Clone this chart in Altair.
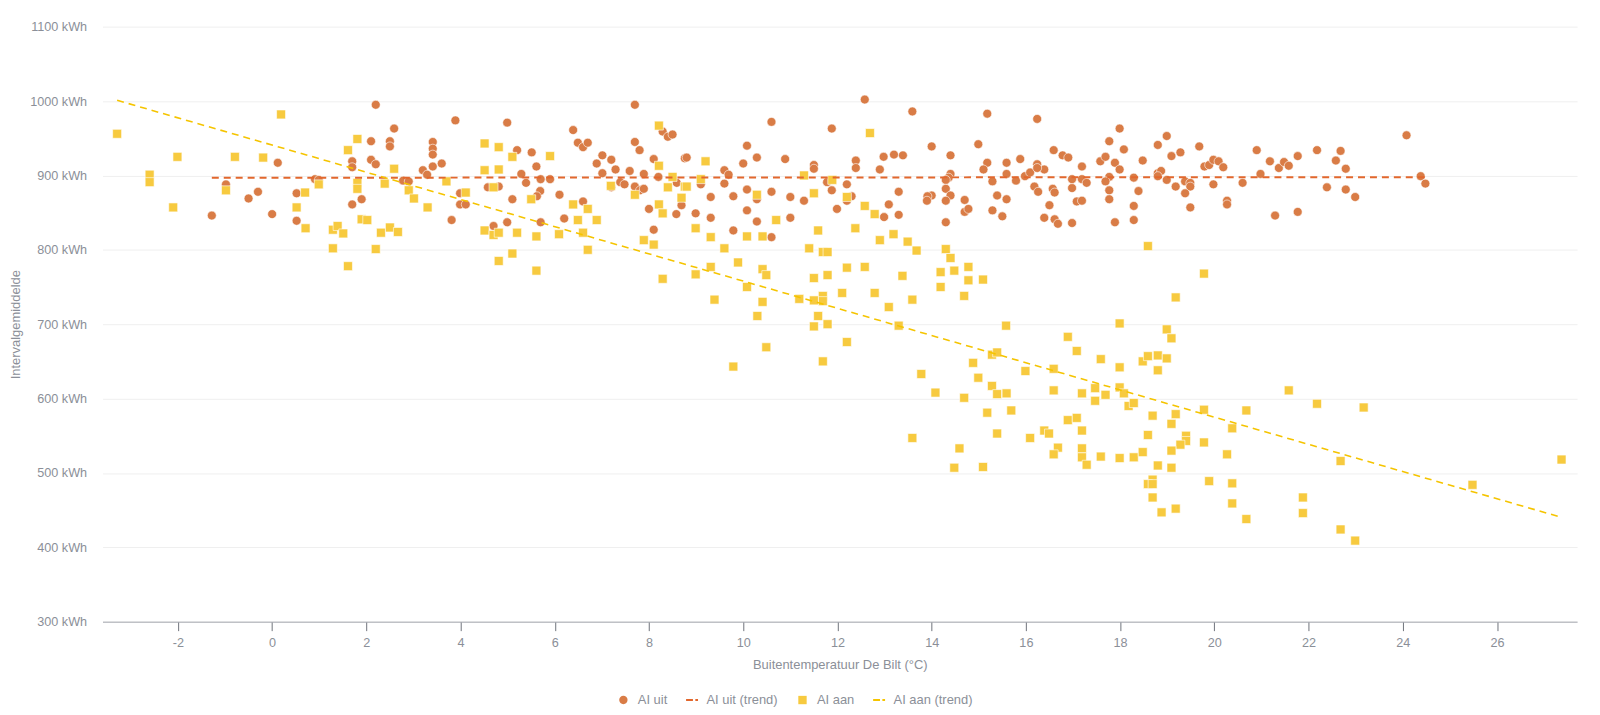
import altair as alt
import pandas as pd

# AI uit (orange circles): outdoor temperature (°C) and interval average (kWh)
uit_x = [-0.98, -1.28, -0.50, -0.30, 0.00, 0.12, 0.52, 0.52, 0.91, 0.99, 1.70, 1.70, 1.70, 1.90, 2.10, 2.10, 2.20, 2.20, 2.50, 2.50, 2.59,
         3.89, 3.41, 3.41, 3.41, 3.41, 3.60, 3.20, 3.29, 2.78, 2.90, 3.99, 3.99, 4.11, 3.81, 4.99, 5.20, 5.51, 5.29, 5.61, 5.39, 5.70, 5.90,
         4.58, 4.81, 5.69, 5.62, 5.10, 6.10, 6.60, 4.70, 4.99, 5.70, 6.20, 6.39, 6.49, 6.60, 6.70, 7.70, 7.70, 7.80, 7.01, 7.20, 6.89, 7.29,
         7.01, 7.59, 7.89, 8.10, 7.39, 7.48, 7.20, 7.70, 7.81, 7.89, 8.20, 8.59, 8.76, 8.29, 8.40, 8.50, 8.00, 8.69, 8.58, 8.10,
         8.80, 9.10, 9.31, 8.99, 9.31, 9.60, 9.69, 9.60, 9.79, 9.79, 10.00, 10.08, 10.29, 10.08, 10.29, 10.08, 10.29, 10.60, 10.60, 10.60,
         10.89, 11.00, 11.00, 11.29, 11.50, 11.50, 11.88, 11.78, 11.88, 12.20, 12.30, 12.20, 11.99, 12.39, 12.39, 12.58, 12.90, 12.98,
         13.20, 13.39, 13.59, 13.30, 13.09, 12.99, 13.30, 14.00, 14.40, 14.40, 14.36, 14.30, 14.30, 14.40, 14.30, 14.00, 13.91, 13.90,
         14.30, 14.70, 14.70, 14.78, 14.99,
         15.18, 15.18, 15.10, 15.29, 15.39, 15.29, 15.50, 15.59, 15.59, 15.59, 15.79, 15.88, 15.98, 16.09, 16.24, 16.24, 16.39, 16.24,
         16.18, 16.26, 16.59, 16.57, 16.61, 16.50, 16.39, 16.61, 16.68, 16.78, 16.90, 16.98, 16.98, 17.08, 17.19, 16.98, 17.19, 17.19,
         17.29, 17.58, 17.69, 17.77, 17.99, 17.89, 17.99, 18.08, 17.77, 17.69, 17.77, 17.77, 17.89, 18.29, 18.39, 18.29, 18.29, 18.48,
         18.80, 18.99, 19.09, 19.28, 18.80, 18.87, 18.80, 18.99, 19.18, 19.38, 19.49, 19.49, 19.38, 19.49, 19.68, 19.79, 19.89, 19.98,
         20.09, 20.19, 19.98, 20.27, 20.27, 20.60, 20.90, 20.98,
         21.18, 21.29, 21.37, 21.48, 21.58, 21.77, 21.77, 22.18, 22.39, 22.58, 22.68, 22.79, 22.79, 22.99, 24.08, 24.38, 24.48]
uit_y = [888, 846, 869, 878, 848, 917, 876, 839, 895, 894, 919, 911, 861, 868, 946, 921, 915, 995, 946, 939, 963,
         974, 945, 936, 928, 912, 916, 907, 901, 893, 892, 876, 861, 861, 840, 971, 934, 931, 902, 912, 890, 895, 895,
         884, 885, 879, 872, 868, 874, 865, 832, 837, 837, 842, 961, 944, 938, 944, 995, 945, 934, 927, 921, 916, 908,
         903, 906, 902, 922, 891, 888, 884, 885, 880, 882, 898, 890, 923, 959, 952, 955, 855, 860, 848, 827,
         924, 888, 871, 849, 843, 907, 901, 889, 872, 826, 916, 940, 924, 881, 868, 853, 838, 972, 878, 817,
         922, 871, 843, 866, 914, 909, 963, 891, 880, 888, 872, 866, 855, 920, 910, 1002, 908, 925,
         928, 927, 986, 878, 861, 844, 847, 939, 927, 902, 897, 894, 882, 873, 866, 873, 872, 866,
         837, 867, 851, 855, 942,
         983, 917, 908, 892, 873, 853, 845, 917, 902, 868, 893, 922, 899, 904, 976, 915, 908, 910,
         885, 878, 934, 882, 877, 860, 843, 841, 835, 927, 924, 895, 883, 865, 866, 836, 912, 895,
         890, 919, 925, 946, 963, 917, 908, 935, 898, 892, 880, 868, 837, 897, 879, 859, 840, 920,
         941, 953, 926, 931, 903, 906, 899, 894, 885, 892, 890, 885, 876, 857, 939, 912, 914, 921,
         919, 911, 888, 866, 861, 890, 934, 902,
         919, 846, 910, 918, 913, 926, 851, 934, 884, 920, 933, 909, 881, 871, 954, 899, 889]

# AI aan (yellow squares)
aan_x = [-3.29, -2.60, -2.60, -2.01, -2.10, -0.79, -0.19, 0.19, -0.98, 0.70, 0.52, 0.71, 0.99, 1.29, 1.39, 1.51, 1.29, 1.61, 1.61,
         1.81, 1.81, 1.81, 1.90, 2.02, 2.20, 2.31, 2.39, 2.50, 2.59, 2.67,
         2.90, 3.01, 3.30, 3.70, 4.11, 4.51, 4.51, 4.81, 4.81, 4.70, 5.10, 5.90, 5.50, 4.51, 4.70, 4.81, 5.20, 5.61, 5.10, 4.81, 5.61,
         6.09, 6.39, 6.49, 6.60, 6.70, 6.89, 6.70, 7.19, 7.70, 8.21, 8.21, 8.40, 8.50, 8.69, 8.76, 8.21, 8.29, 7.89, 8.10, 8.29,
         9.20, 9.10, 8.80, 8.99, 9.31, 9.60, 9.31, 8.99, 9.39, 9.89, 10.08, 10.08, 10.29, 10.41, 10.41, 10.49, 10.41, 10.30, 10.49,
         10.70, 11.29, 11.50, 11.59, 11.40, 11.69, 11.79, 11.50, 11.79, 11.69, 11.69, 11.50, 11.19, 11.59, 11.50, 11.79, 12.20, 11.69,
         11.89, 12.20, 12.10, 12.20, 12.58, 12.58, 12.38, 12.69, 12.79, 12.79, 12.90, 13.09, 13.19, 13.30, 13.38, 13.49, 13.59, 13.68,
         14.30, 14.40, 14.19, 14.19, 14.48, 14.78, 14.78, 14.69, 9.79,
         15.09, 15.58, 13.78, 14.08, 13.59, 14.48, 14.59, 14.69, 14.88, 14.99, 15.09, 15.18, 15.28, 15.39, 15.28, 15.39, 15.39, 15.59,
         15.69, 15.99, 16.09, 16.39, 16.49, 16.59, 16.59, 16.68, 16.59, 16.89, 17.08, 16.89, 17.08, 17.19, 17.19, 17.19, 17.19, 17.29,
         17.47, 17.47, 17.59, 17.69, 17.59, 17.99, 17.99, 17.99, 18.08, 17.99, 18.18, 18.29, 18.29, 18.48, 18.59, 18.48, 18.59, 18.69,
         18.59, 18.80, 18.80, 18.99, 19.09, 18.99, 19.18, 19.18, 19.09, 19.40, 19.40, 19.28, 19.09, 19.09, 18.80, 18.69, 18.59, 18.69,
         18.69, 18.88, 19.18, 19.78, 19.78, 19.78, 19.89, 21.58, 22.18, 23.17, 20.38, 20.68, 20.27, 20.38, 20.38, 20.68, 21.88, 21.88,
         22.68, 22.68, 22.99, 25.48, 27.37]
aan_y = [956, 901, 891, 925, 857, 925, 924, 982, 880, 877, 857, 829, 888, 827, 832, 822, 802, 778, 934,
         949, 890, 882, 841, 840, 801, 823, 889, 830, 909, 824,
         880, 869, 857, 892, 877, 943, 907, 938, 908, 884, 925, 926, 868, 826, 820, 823, 823, 818, 795, 785, 772,
         821, 861, 840, 823, 855, 840, 800, 886, 874, 967, 913, 884, 898, 870, 885, 861, 849, 813, 807, 761,
         919, 895, 885, 829, 817, 802, 777, 767, 733, 783, 818, 750, 874, 818, 774, 766, 730, 711, 669,
         840, 900, 876, 826, 802, 797, 797, 762, 766, 738, 731, 732, 734, 711, 697, 700, 676, 650,
         894, 871, 742, 776, 777, 859, 829, 957, 848, 742, 813, 723, 821, 698, 765, 811, 733, 799,
         801, 789, 770, 750, 772, 777, 759, 738, 643,
         760, 698, 633, 608, 547, 507, 533, 601, 648, 628, 508, 581, 659, 662, 617, 606, 553, 607,
         584, 637, 547, 557, 553, 640, 611, 534, 525, 683, 664, 571, 574, 607, 557, 533, 521, 511,
         614, 597, 653, 605, 522, 701, 642, 615, 607, 520, 590, 594, 521, 650, 657, 528, 551, 577,
         805, 658, 638, 693, 681, 654, 736, 579, 566, 550, 543, 538, 530, 507, 510, 491, 485, 485,
         467, 447, 452, 768, 585, 541, 489, 611, 593, 588, 560, 584, 525, 486, 459, 438, 467, 446,
         516, 424, 409, 484, 518]

series_names = ["AI uit", "AI uit (trend)", "AI aan", "AI aan (trend)"]
series_colors = ["#D97C46", "#E2672D", "#F7CA3F", "#F5C400"]
x_ticks = list(range(-2, 27, 2))
y_ticks = list(range(300, 1101, 100))

df = pd.concat([
    pd.DataFrame({"temp": uit_x, "kwh": uit_y, "serie": "AI uit"}),
    pd.DataFrame({"temp": aan_x, "kwh": aan_y, "serie": "AI aan"}),
], ignore_index=True)

FONT = "Liberation Sans"
GREY = "#8b8f98"
LABEL_SIZE = 12.7
TEXT_SIZE = 13

circle_path = "M-0.7,0A0.7,0.7 0 1,0 0.7,0A0.7,0.7 0 1,0 -0.7,0Z"
square_path = "M-0.7,-0.7H0.7V0.7H-0.7Z"
dash_path = "M-1,-0.17H0.15V0.17H-1Z M0.55,-0.17H1V0.17H0.55Z"

x_enc = alt.X("temp:Q",
              scale=alt.Scale(domain=[-3.6, 27.7], nice=False, zero=False),
              axis=alt.Axis(values=x_ticks, labelExpr="'' + datum.value", grid=False,
                            title="Buitentemperatuur De Bilt (°C)",
                            domainColor="#a3a6ad", tickColor="#6f737b", tickSize=9,
                            labelPadding=6, titlePadding=9,
                            labelFont=FONT, titleFont=FONT, labelFontSize=LABEL_SIZE, titleFontSize=TEXT_SIZE,
                            labelColor=GREY, titleColor=GREY, titleFontWeight="normal"))
y_enc = alt.Y("kwh:Q",
              scale=alt.Scale(domain=[300, 1100], nice=False, zero=False),
              axis=alt.Axis(values=y_ticks, labelExpr="datum.value + ' kWh'", domain=False, ticks=False,
                            gridColor="#efefef", labelPadding=16,
                            labelFont=FONT, titleFont=FONT, labelFontSize=LABEL_SIZE, titleFontSize=TEXT_SIZE,
                            labelColor=GREY, titleColor=GREY, titleFontWeight="normal",
                            title="Intervalgemiddelde", titleX=-87, titleY=299, titleAngle=270,
                            titleAlign="center", titleBaseline="middle"))

points = alt.Chart(df).mark_point(filled=True, opacity=1, stroke="white", strokeWidth=0.6, size=165).encode(
    x=x_enc,
    y=y_enc,
    color=alt.Color("serie:N", scale=alt.Scale(domain=series_names, range=series_colors),
                    legend=alt.Legend(title=None, orient="none", direction="horizontal",
                                      legendX=517, legendY=670, symbolSize=144,
                                      labelFontSize=TEXT_SIZE, labelColor=GREY, labelFont=FONT,
                                      columnPadding=18, labelOffset=8, symbolStrokeWidth=0)),
    shape=alt.Shape("serie:N", scale=alt.Scale(domain=series_names,
                                               range=[circle_path, dash_path, square_path, dash_path]),
                    legend=None),
)

trend_uit = alt.Chart(df).transform_filter(alt.datum.serie == "AI uit").transform_regression(
    "temp", "kwh").mark_line(color=series_colors[1], strokeWidth=2, strokeDash=[7, 5]).encode(
    x="temp:Q", y="kwh:Q")
trend_aan = alt.Chart(df).transform_filter(alt.datum.serie == "AI aan").transform_regression(
    "temp", "kwh").mark_line(color=series_colors[3], strokeWidth=1.6, strokeDash=[7, 5]).encode(
    x="temp:Q", y="kwh:Q")

chart = alt.layer(points, trend_uit, trend_aan).properties(
    width=1482, height=598,
    background="white",
    autosize=alt.AutoSizeParams(type="none"),
    padding={"left": 95, "top": 17, "right": 15, "bottom": 90},
).configure_view(stroke=None)

chart.save("out.html", embed_options={"renderer": "svg", "actions": False})
